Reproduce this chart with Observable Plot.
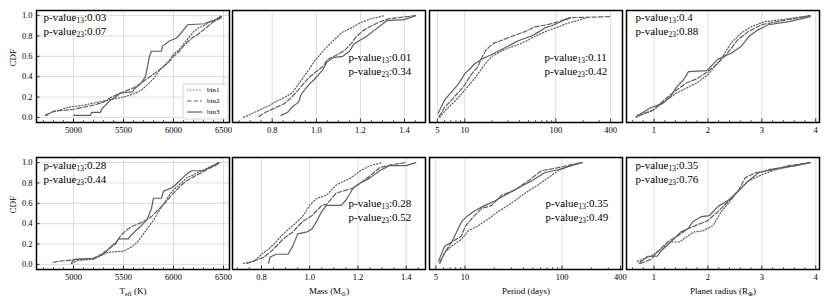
<!DOCTYPE html>
<html><head><meta charset="utf-8">
<script src="https://cdn.jsdelivr.net/npm/d3@7"></script>
<script src="https://cdn.jsdelivr.net/npm/@observablehq/plot@0.6"></script>
<style>
body{margin:0;background:#fff;}
#chart{position:relative;width:830px;height:303px;overflow:hidden;font-family:"Liberation Serif",serif;}
#chart svg{position:absolute;overflow:visible;}
#chart text{font-family:"Liberation Serif",serif;}
</style></head><body><div id="chart"></div>
<script>
// ---------------- DATA ----------------
const binLabels = ["bin1","bin2","bin3"];
const xTitles = ["T_{eff} (K)","Mass (M_{⊙})","Period (days)","Planet radius (R_{⊕})"];
const pValues13 = ["0.03","0.01","0.11","0.4","0.28","0.28","0.35","0.35"];
const pValues23 = ["0.07","0.34","0.42","0.88","0.44","0.52","0.49","0.76"];
const yTicks = [0,0.2,0.4,0.6,0.8,1.0];
const teffTicks = [5000,5500,6000,6500];
const massTicks = [0.8,1.0,1.2,1.4];
const periodTicks = [5,10,100,400];
const radiusTicks = [1,2,3,4];
const teffMinor = [4700,4800,4900,5100,5200,5300,5400,5600,5700,5800,5900,6100,6200,6300,6400];
const massMinor = [0.65,0.7,0.75,0.85,0.9,0.95,1.05,1.1,1.15,1.25,1.3,1.35,1.45];
const periodMinor = [6,7,8,9,20,30,40,50,60,70,80,90,200,300];
const radiusMinor = [0.6,0.8,1.2,1.4,1.6,1.8,2.2,2.4,2.6,2.8,3.2,3.4,3.6,3.8];

// top row
const teff1_bin1 = [[4730,0.02],[4780,0.05],[4950,0.1],[5100,0.12],[5250,0.15],[5400,0.18],[5500,0.2],[5600,0.23],[5680,0.27],[5750,0.33],[5800,0.38],[5850,0.45],[5900,0.5],[5950,0.55],[6000,0.62],[6050,0.66],[6100,0.72],[6150,0.78],[6200,0.84],[6250,0.88],[6300,0.9],[6350,0.93],[6420,0.96],[6480,1.0]];
const teff1_bin2 = [[4720,0.02],[4760,0.04],[4800,0.06],[4900,0.07],[5000,0.08],[5100,0.1],[5200,0.12],[5300,0.15],[5380,0.2],[5450,0.23],[5520,0.26],[5600,0.29],[5650,0.32],[5720,0.37],[5780,0.41],[5850,0.46],[5900,0.5],[5950,0.54],[6000,0.6],[6050,0.64],[6100,0.7],[6150,0.75],[6200,0.79],[6250,0.82],[6300,0.86],[6350,0.9],[6400,0.94],[6480,0.98]];
const teff1_bin3 = [[5000,0.02],[5170,0.02],[5180,0.05],[5270,0.05],[5280,0.08],[5320,0.12],[5370,0.17],[5420,0.2],[5470,0.24],[5590,0.25],[5600,0.27],[5670,0.33],[5720,0.4],[5740,0.5],[5760,0.6],[5780,0.65],[5880,0.65],[5890,0.7],[5960,0.75],[6030,0.78],[6070,0.82],[6100,0.86],[6140,0.91],[6320,0.92],[6330,0.93],[6400,0.95],[6480,0.99]];

const mass1_bin1 = [[0.67,0.0],[0.7,0.03],[0.73,0.06],[0.76,0.09],[0.79,0.12],[0.82,0.16],[0.86,0.2],[0.89,0.24],[0.91,0.3],[0.93,0.36],[0.95,0.42],[0.97,0.48],[0.99,0.55],[1.01,0.6],[1.03,0.65],[1.06,0.72],[1.09,0.78],[1.12,0.84],[1.16,0.88],[1.2,0.93],[1.25,0.97],[1.31,1.0]];
const mass1_bin2 = [[0.74,0.01],[0.77,0.05],[0.81,0.09],[0.85,0.13],[0.88,0.18],[0.91,0.25],[0.93,0.3],[0.95,0.35],[0.97,0.4],[1.0,0.45],[1.03,0.5],[1.05,0.57],[1.09,0.61],[1.13,0.66],[1.16,0.73],[1.18,0.79],[1.21,0.85],[1.25,0.9],[1.29,0.94],[1.33,0.97],[1.45,1.0]];
const mass1_bin3 = [[0.84,0.02],[0.87,0.05],[0.89,0.1],[0.92,0.15],[0.93,0.22],[0.95,0.28],[0.97,0.33],[0.99,0.37],[1.01,0.42],[1.03,0.47],[1.05,0.55],[1.08,0.59],[1.12,0.6],[1.15,0.65],[1.17,0.72],[1.2,0.76],[1.23,0.8],[1.26,0.85],[1.29,0.9],[1.32,0.95],[1.4,0.96],[1.45,1.0]];

const period1_bin1 = [[5.3,0.0],[6,0.06],[7,0.12],[8,0.17],[9,0.22],[10,0.27],[12,0.35],[14,0.43],[16,0.5],[18,0.56],[20,0.6],[25,0.65],[30,0.68],[40,0.72],[50,0.76],[60,0.8],[80,0.85],[100,0.88],[130,0.92],[170,0.95],[220,0.98]];
const period1_bin2 = [[5.2,0.01],[5.6,0.05],[6,0.1],[7,0.16],[8,0.22],[9,0.27],[10,0.32],[11,0.38],[12,0.43],[14,0.5],[15,0.57],[17,0.66],[19,0.7],[21,0.73],[26,0.76],[36,0.81],[45,0.84],[59,0.89],[80,0.91],[107,0.94],[150,0.98],[400,0.99]];
const period1_bin3 = [[5.1,0.04],[5.5,0.1],[6,0.17],[7,0.24],[8,0.3],[8.5,0.33],[9.3,0.38],[10,0.43],[11.5,0.48],[13,0.53],[16,0.58],[19,0.61],[21,0.63],[27,0.68],[33,0.72],[38,0.75],[54,0.8],[65,0.84],[76,0.88],[90,0.9],[107,0.93],[125,0.96],[144,0.98]];

const radius1_bin1 = [[0.67,0.0],[0.98,0.07],[1.23,0.17],[1.42,0.24],[1.61,0.29],[1.8,0.34],[2.0,0.42],[2.24,0.57],[2.43,0.73],[2.62,0.83],[2.8,0.89],[3.05,0.94],[3.5,0.97],[3.9,1.0]];
const radius1_bin2 = [[0.7,0.02],[0.98,0.07],[1.23,0.19],[1.42,0.27],[1.61,0.34],[1.8,0.38],[2.0,0.45],[2.18,0.53],[2.36,0.63],[2.55,0.76],[2.74,0.84],[2.99,0.91],[3.37,0.95],[3.9,1.0]];
const radius1_bin3 = [[0.67,0.01],[0.92,0.09],[1.17,0.14],[1.3,0.2],[1.42,0.3],[1.55,0.37],[1.64,0.45],[1.98,0.46],[2.0,0.47],[2.18,0.57],[2.43,0.63],[2.62,0.7],[2.77,0.8],[2.93,0.86],[3.12,0.91],[3.5,0.94],[3.9,0.99]];

// bottom row
const teff2_bin1 = [[4980,0.01],[5050,0.04],[5200,0.05],[5280,0.09],[5350,0.12],[5500,0.13],[5580,0.17],[5640,0.22],[5700,0.3],[5760,0.38],[5810,0.45],[5870,0.55],[5920,0.62],[5970,0.7],[6020,0.75],[6080,0.8],[6130,0.85],[6200,0.88],[6280,0.92],[6350,0.95],[6450,1.0]];
const teff2_bin2 = [[4800,0.02],[4850,0.03],[4950,0.04],[5050,0.05],[5200,0.06],[5280,0.1],[5350,0.15],[5420,0.2],[5470,0.28],[5520,0.33],[5580,0.37],[5650,0.4],[5720,0.43],[5780,0.47],[5830,0.52],[5880,0.57],[5930,0.62],[5980,0.68],[6030,0.73],[6080,0.78],[6130,0.82],[6200,0.86],[6280,0.9],[6350,0.94],[6420,0.97],[6460,1.0]];
const teff2_bin3 = [[4980,0.02],[5010,0.05],[5200,0.06],[5280,0.09],[5330,0.13],[5380,0.18],[5420,0.21],[5450,0.25],[5550,0.25],[5560,0.27],[5620,0.33],[5680,0.38],[5740,0.45],[5780,0.55],[5800,0.65],[5880,0.65],[5900,0.72],[5980,0.75],[6040,0.8],[6090,0.85],[6150,0.9],[6180,0.92],[6320,0.92],[6330,0.94],[6400,0.97],[6460,1.0]];

const mass2_bin1 = [[0.725,0.01],[0.77,0.03],[0.8,0.1],[0.83,0.15],[0.86,0.22],[0.89,0.3],[0.93,0.38],[0.97,0.47],[1.0,0.58],[1.03,0.65],[1.07,0.68],[1.11,0.78],[1.17,0.85],[1.21,0.92],[1.25,0.97],[1.3,1.0]];
const mass2_bin2 = [[0.74,0.01],[0.81,0.07],[0.85,0.15],[0.89,0.25],[0.93,0.32],[0.97,0.42],[1.01,0.48],[1.05,0.58],[1.07,0.59],[1.11,0.7],[1.18,0.75],[1.21,0.8],[1.25,0.87],[1.29,0.95],[1.34,0.98],[1.4,1.0]];
const mass2_bin3 = [[0.83,0.01],[0.835,0.07],[0.86,0.1],[0.91,0.1],[0.93,0.18],[0.95,0.3],[0.99,0.32],[1.01,0.35],[1.03,0.43],[1.05,0.52],[1.07,0.58],[1.13,0.58],[1.15,0.63],[1.18,0.75],[1.21,0.8],[1.25,0.85],[1.29,0.92],[1.33,0.97],[1.4,0.97],[1.44,1.0]];

const period2_bin1 = [[5.5,0.01],[6.2,0.12],[7.3,0.18],[9.2,0.25],[10.8,0.33],[13.7,0.38],[17.5,0.45],[22,0.52],[27.8,0.58],[35.3,0.65],[44.7,0.72],[56.6,0.78],[71.7,0.85],[91,0.92],[124,0.97],[164,1.0]];
const period2_bin2 = [[5.5,0.02],[6.2,0.12],[7.3,0.22],[9.2,0.28],[10,0.37],[11.7,0.45],[14.8,0.55],[18.8,0.58],[23.8,0.68],[32.6,0.73],[44.7,0.82],[61.4,0.92],[91,0.95],[124,0.98],[158,1.0]];
const period2_bin3 = [[5.32,0.03],[5.98,0.15],[6.2,0.18],[7.3,0.22],[8.2,0.32],[9.2,0.42],[10.4,0.47],[12.7,0.53],[16,0.58],[20,0.62],[25.8,0.68],[35.3,0.75],[48.4,0.82],[66,0.9],[91,0.93],[124,0.97],[158,1.0]];

const radius2_bin1 = [[0.69,0.03],[0.94,0.08],[1.13,0.15],[1.31,0.22],[1.47,0.22],[1.63,0.28],[1.75,0.32],[1.91,0.33],[2.09,0.38],[2.25,0.52],[2.41,0.62],[2.56,0.72],[2.75,0.82],[3.0,0.88],[3.25,0.93],[3.63,0.97],[3.9,1.0]];
const radius2_bin2 = [[0.75,0.01],[0.94,0.05],[1.06,0.12],[1.25,0.22],[1.44,0.28],[1.63,0.35],[1.81,0.39],[2.0,0.43],[2.19,0.52],[2.38,0.62],[2.56,0.72],[2.69,0.85],[2.88,0.9],[3.13,0.92],[3.5,0.97],[3.88,1.0]];
const radius2_bin3 = [[0.72,0.01],[0.88,0.08],[1.06,0.08],[1.13,0.13],[1.31,0.22],[1.5,0.32],[1.63,0.35],[1.72,0.42],[1.88,0.47],[2.03,0.48],[2.19,0.57],[2.38,0.63],[2.56,0.72],[2.75,0.82],[2.94,0.9],[3.13,0.93],[3.38,0.95],[3.63,0.97],[3.9,1.0]];

// ---------------- LAYOUT / STYLE ----------------
const FW = 193, FH = 112;
const frameLefts = [36, 232, 429, 626];
const frameTops = [10, 157];
const lineColor = "#5e5e5e";
const dashes = ["1.2,1.9", "4.5,2", null];
const serif = "Liberation Serif";

const panels = [
  {series:[teff1_bin1,teff1_bin2,teff1_bin3], type:"linear", domain:[4630,6560], ticks:teffTicks, minor:teffMinor, fmt:d=>String(d), txt:[7,7]},
  {series:[mass1_bin1,mass1_bin2,mass1_bin3], type:"linear", domain:[0.62,1.495], ticks:massTicks, minor:massMinor, fmt:d=>d.toFixed(1), txt:[116,47]},
  {series:[period1_bin1,period1_bin2,period1_bin3], type:"log", domain:[4.1,540], ticks:periodTicks, minor:periodMinor, fmt:d=>String(d), txt:[115,47]},
  {series:[radius1_bin1,radius1_bin2,radius1_bin3], type:"linear", domain:[0.49,4.07], ticks:radiusTicks, minor:radiusMinor, fmt:d=>String(d), txt:[9,7]},
  {series:[teff2_bin1,teff2_bin2,teff2_bin3], type:"linear", domain:[4630,6560], ticks:teffTicks, minor:teffMinor, fmt:d=>String(d), txt:[7,8]},
  {series:[mass2_bin1,mass2_bin2,mass2_bin3], type:"linear", domain:[0.68,1.48], ticks:massTicks, minor:massMinor, fmt:d=>d.toFixed(1), txt:[116,46]},
  {series:[period2_bin1,period2_bin2,period2_bin3], type:"log", domain:[4.3,420], ticks:periodTicks, minor:periodMinor, fmt:d=>String(d), txt:[116,46]},
  {series:[radius2_bin1,radius2_bin2,radius2_bin3], type:"linear", domain:[0.49,4.07], ticks:radiusTicks, minor:radiusMinor, fmt:d=>String(d), txt:[9,8]}
];

function applySub(svg){
  svg.querySelectorAll("text").forEach(t => {
    const s = t.textContent;
    if (!s.includes("_{")) return;
    const holder = t.closest("[font-size]");
    const fs = holder ? parseFloat(holder.getAttribute("font-size")) : 10;
    while (t.firstChild) t.removeChild(t.firstChild);
    let shifted = false;
    s.split(/(_\{[^}]*\})/).forEach(p => {
      if (!p) return;
      const ts = document.createElementNS("http://www.w3.org/2000/svg","tspan");
      if (p.startsWith("_{")) {
        ts.textContent = p.slice(2,-1);
        ts.setAttribute("font-size", fs*0.68);
        ts.setAttribute("dy", fs*0.22);
        shifted = true;
      } else {
        ts.textContent = p;
        if (shifted) { ts.setAttribute("dy", -fs*0.22); shifted = false; }
      }
      t.appendChild(ts);
    });
  });
}

const chart = document.getElementById("chart");
const yDom = [-0.05, 1.05];
const perY = (yDom[1]-yDom[0])/FH;
const T = {fontFamily: serif, fill: "#000"};

panels.forEach((p, i) => {
  const row = Math.floor(i/4), col = i % 4;
  const ml = col === 0 ? 40 : 2, mr = 2, mt = 2, mb = row === 0 ? 18 : 34;
  const marks = [];
  if (col === 0) marks.push(Plot.gridY({ticks: yTicks, stroke:"#d4d4d4", strokeOpacity:1, strokeWidth:0.8}));
  marks.push(Plot.gridX({ticks: p.ticks, stroke:"#d4d4d4", strokeOpacity:1, strokeWidth:0.8}));
  p.series.forEach((s, k) => {
    marks.push(Plot.line(s, {x: d=>d[0], y: d=>d[1], curve:"linear", stroke: lineColor, strokeWidth: 1.2, strokeDasharray: dashes[k]}));
  });
  // inward ticks
  marks.push(Plot.ruleX(p.ticks, {x: d=>d, y1: yDom[0], y2: yDom[0] + 3.5*perY, stroke:"#000", strokeWidth:0.8}));
  marks.push(Plot.ruleX(p.minor.filter(v => v > p.domain[0] && v < p.domain[1]), {x: d=>d, y1: yDom[0], y2: yDom[0] + 2*perY, stroke:"#000", strokeWidth:0.6}));
  // x tick labels
  marks.push(Plot.text(p.ticks, {...T, x: d=>d, text: p.fmt, frameAnchor:"bottom", dy: 8, lineAnchor:"middle", textAnchor:"middle", fontSize:8.5}));
  if (col === 0) {
    const span = p.domain[1]-p.domain[0];
    marks.push(Plot.ruleY(yTicks, {y: d=>d, x1: p.domain[0], x2: p.domain[0] + span*3.5/FW, stroke:"#000", strokeWidth:0.8}));
    marks.push(Plot.text(yTicks, {...T, y: d=>d, text: d=>d.toFixed(1), frameAnchor:"left", dx:-4, textAnchor:"end", lineAnchor:"middle", fontSize:8.5}));
    marks.push(Plot.text(["CDF"], {...T, text:d=>d, frameAnchor:"left", dx:-23, rotate:-90, fontSize:9}));
  }
  marks.push(Plot.text([`p-value_{13}:${pValues13[i]}`], {...T, text:d=>d, frameAnchor:"top-left", dx:p.txt[0], dy:p.txt[1], textAnchor:"start", lineAnchor:"middle", fontSize:11}));
  marks.push(Plot.text([`p-value_{23}:${pValues23[i]}`], {...T, text:d=>d, frameAnchor:"top-left", dx:p.txt[0], dy:p.txt[1]+13.5, textAnchor:"start", lineAnchor:"middle", fontSize:11}));
  if (row === 1) marks.push(Plot.text([xTitles[col]], {...T, text:d=>d, frameAnchor:"bottom", dy:22, textAnchor:"middle", lineAnchor:"middle", fontSize:9}));
  marks.push(Plot.frame({stroke:"#000", strokeWidth:1.5}));

  const svg = Plot.plot({
    width: FW+ml+mr, height: FH+mt+mb,
    marginLeft: ml, marginRight: mr, marginTop: mt, marginBottom: mb,
    x: {type: p.type, domain: p.domain, axis: null},
    y: {domain: yDom, axis: null},
    style: {fontFamily: serif, fontSize: "8.5px", background: "transparent", color: "#000"},
    marks
  });
  svg.style.left = (frameLefts[col]-ml) + "px";
  svg.style.top = (frameTops[row]-mt) + "px";
  applySub(svg);
  chart.appendChild(svg);
});

// legend (inside first panel)
const leg = d3.select(chart).append("svg")
  .attr("width", 48).attr("height", 38)
  .style("left", "182px").style("top", "83px")
  .attr("font-family", serif);
leg.append("rect").attr("x",1).attr("y",1).attr("width",45).attr("height",35).attr("rx",2)
  .attr("fill","#fff").attr("fill-opacity",0.85).attr("stroke","#ccc").attr("stroke-width",0.8);
binLabels.forEach((b, k) => {
  const y = 7 + k*11;
  leg.append("line").attr("x1",5).attr("x2",20).attr("y1",y).attr("y2",y)
    .attr("stroke", lineColor).attr("stroke-width",1.2).attr("stroke-dasharray", dashes[k]);
  leg.append("text").attr("x",25).attr("y",y).attr("dy","0.32em").attr("font-size",7).attr("font-family",serif).text(b);
});
</script></body></html>
